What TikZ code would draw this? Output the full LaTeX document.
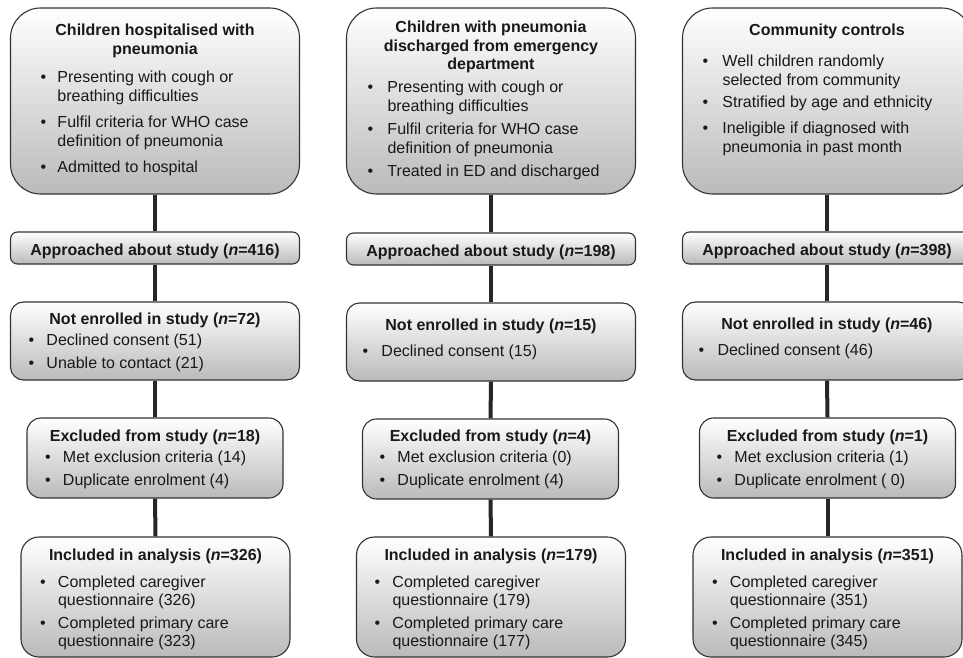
\documentclass[tikz,border=0pt]{standalone}
\usepackage{fontspec}
\setmainfont{Liberation Sans}
\newlength\bulx
\newlength\txtx
\newcommand{\boxtext}[3]{\parbox[c][#2][t]{#1}{\rightskip=0pt plus 1fil\relax#3}}
\newcommand{\boxtitle}[2]{{\centering\bfseries\rule{0pt}{#1}#2\par}}
\newcommand{\bitem}[2][4pt]{\par\vspace{#1}\hangindent=\txtx\hangafter=1\noindent\makebox[\txtx][l]{\hspace*{\bulx}\textbullet}#2\par}
\tikzset{
  flowbox/.style={draw=black!80, line width=1.1pt, top color=white, bottom color=black!27,
    inner sep=0pt, text=black!90, font=\fontsize{16pt}{18.5pt}\selectfont},
  link/.style={line width=4pt, draw=black!85}
}
\begin{document}
\begin{tikzpicture}[x=1pt,y=-1pt]
\path[use as bounding box, fill=white] (0,0) rectangle (963,658);
\node[flowbox, rounded corners=30pt] (hosp) at (155,101) {\boxtext{289pt}{186pt}{\setlength\bulx{30pt}\setlength\txtx{47pt}%
  \boxtitle{28pt}{Children hospitalised with\\pneumonia}%
  \bitem[10pt]{Presenting with cough or\\breathing difficulties}%
  \bitem[8pt]{Fulfil criteria for WHO case\\definition of pneumonia}%
  \bitem[8pt]{Admitted to hospital}}};
\node[flowbox, rounded corners=30pt] (ed) at (491,101) {\boxtext{289pt}{186pt}{\setlength\bulx{21pt}\setlength\txtx{41pt}%
  \boxtitle{25pt}{Children with pneumonia\\discharged from emergency\\department}%
  \bitem[4.5pt]{Presenting with cough or\\breathing difficulties}%
  \bitem[5pt]{Fulfil criteria for WHO case\\definition of pneumonia}%
  \bitem[5pt]{Treated in ED and discharged}}};
\node[flowbox, rounded corners=30pt] (comm) at (827,101) {\boxtext{289pt}{186pt}{\setlength\bulx{20pt}\setlength\txtx{40pt}%
  \boxtitle{28pt}{Community controls}%
  \bitem[12.5pt]{Well children randomly\\selected from community}%
  \bitem[3.5pt]{Stratified by age and ethnicity}%
  \bitem[7.5pt]{Ineligible if diagnosed with\\pneumonia in past month}}};
\node[flowbox, rounded corners=7pt] (hospAppr) at (155,248) {\boxtext{289pt}{32pt}{\boxtitle{23pt}{Approached about study (\textit{n}=416)}}};
\node[flowbox, rounded corners=7pt] (edAppr) at (491,249) {\boxtext{289pt}{32pt}{\boxtitle{23pt}{Approached about study (\textit{n}=198)}}};
\node[flowbox, rounded corners=7pt] (commAppr) at (827,248) {\boxtext{289pt}{32pt}{\boxtitle{23pt}{Approached about study (\textit{n}=398)}}};
\node[flowbox, rounded corners=13pt] (hospNot) at (155,341) {\boxtext{289pt}{78pt}{\setlength\bulx{18pt}\setlength\txtx{36pt}%
  \boxtitle{22pt}{Not enrolled in study (\textit{n}=72)}%
  \bitem[2.5pt]{Declined consent (51)}%
  \bitem[4.5pt]{Unable to contact (21)}}};
\node[flowbox, rounded corners=13pt] (edNot) at (491,342) {\boxtext{289pt}{78pt}{\setlength\bulx{16pt}\setlength\txtx{35pt}%
  \boxtitle{27pt}{Not enrolled in study (\textit{n}=15)}%
  \bitem[7.5pt]{Declined consent (15)}}};
\node[flowbox, rounded corners=13pt] (commNot) at (827,341) {\boxtext{289pt}{78pt}{\setlength\bulx{16pt}\setlength\txtx{35pt}%
  \boxtitle{27pt}{Not enrolled in study (\textit{n}=46)}%
  \bitem[7.5pt]{Declined consent (46)}}};
\node[flowbox, rounded corners=14pt] (hospExcl) at (155,458) {\boxtext{256pt}{80pt}{\setlength\bulx{18pt}\setlength\txtx{36pt}%
  \boxtitle{23pt}{Excluded from study (\textit{n}=18)}%
  \bitem[2.5pt]{Met exclusion criteria (14)}%
  \bitem[4.5pt]{Duplicate enrolment (4)}}};
\node[flowbox, rounded corners=14pt] (edExcl) at (490.5,459) {\boxtext{256pt}{80pt}{\setlength\bulx{17pt}\setlength\txtx{35pt}%
  \boxtitle{22pt}{Excluded from study (\textit{n}=4)}%
  \bitem[2.5pt]{Met exclusion criteria (0)}%
  \bitem[4.5pt]{Duplicate enrolment (4)}}};
\node[flowbox, rounded corners=14pt] (commExcl) at (827.5,458) {\boxtext{256pt}{80pt}{\setlength\bulx{17pt}\setlength\txtx{35pt}%
  \boxtitle{23pt}{Excluded from study (\textit{n}=1)}%
  \bitem[2.5pt]{Met exclusion criteria (1)}%
  \bitem[4.5pt]{Duplicate enrolment ( 0)}}};
\node[flowbox, rounded corners=18pt] (hospIncl) at (155.5,597) {\boxtext{269pt}{120pt}{\setlength\bulx{19pt}\setlength\txtx{37pt}%
  \boxtitle{23pt}{Included in analysis (\textit{n}=326)}%
  \bitem[8.5pt]{Completed caregiver\\questionnaire (326)}%
  \bitem[4pt]{Completed primary care\\questionnaire (323)}}};
\node[flowbox, rounded corners=18pt] (edIncl) at (491,597) {\boxtext{269pt}{120pt}{\setlength\bulx{18pt}\setlength\txtx{36pt}%
  \boxtitle{23pt}{Included in analysis (\textit{n}=179)}%
  \bitem[8.5pt]{Completed caregiver\\questionnaire (179)}%
  \bitem[4pt]{Completed primary care\\questionnaire (177)}}};
\node[flowbox, rounded corners=18pt] (commIncl) at (827.5,597) {\boxtext{269pt}{120pt}{\setlength\bulx{19pt}\setlength\txtx{37pt}%
  \boxtitle{23pt}{Included in analysis (\textit{n}=351)}%
  \bitem[8.5pt]{Completed caregiver\\questionnaire (351)}%
  \bitem[4pt]{Completed primary care\\questionnaire (345)}}};
\draw[link] (hosp.south) -- (hospAppr.north);
\draw[link] (hospAppr.south) -- (hospNot.north);
\draw[link] (hospNot.south) -- (hospExcl.north);
\draw[link] (hospExcl.south) -- (hospIncl.north);
\draw[link] (ed.south) -- (edAppr.north);
\draw[link] (edAppr.south) -- (edNot.north);
\draw[link] (edNot.south) -- (edExcl.north);
\draw[link] (edExcl.south) -- (edIncl.north);
\draw[link] (comm.south) -- (commAppr.north);
\draw[link] (commAppr.south) -- (commNot.north);
\draw[link] (commNot.south) -- (commExcl.north);
\draw[link] (commExcl.south) -- (commIncl.north);
\end{tikzpicture}
\end{document}
